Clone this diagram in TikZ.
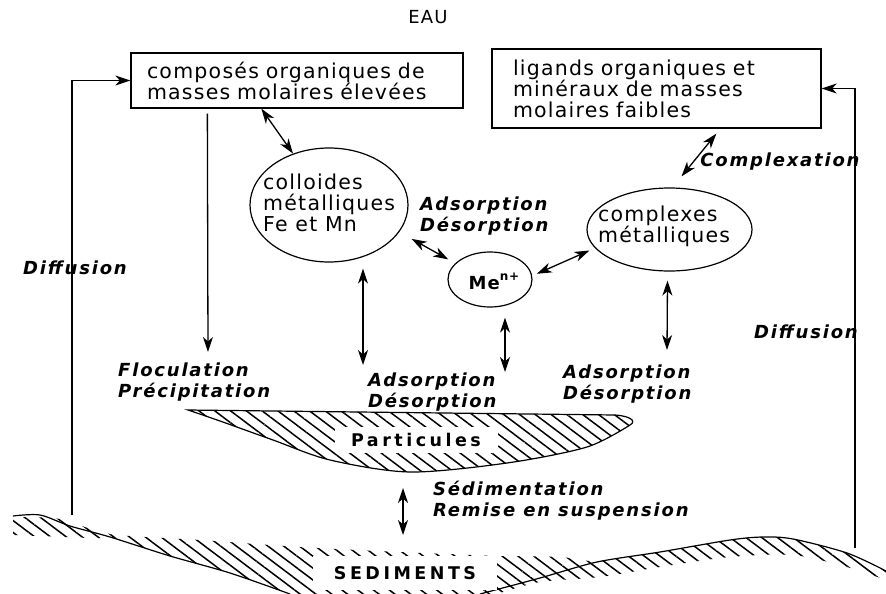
\documentclass[tikz,border=0pt]{standalone}
\usepackage{fontspec}
\setmainfont{DejaVu Sans}
\newfontfamily\bodyf[LetterSpace=6]{DejaVu Sans}
\newfontfamily\labf[LetterSpace=10]{DejaVu Sans}
\newfontfamily\headf[LetterSpace=20]{DejaVu Sans}
\usetikzlibrary{arrows.meta,patterns.meta,shapes.geometric,calc}
\tikzset{
  >={Stealth[length=15pt,width=10pt,inset=4.5pt]},
  conn/.style={line width=1.3pt},
  box/.style={draw, line width=1.3pt, align=left, inner ysep=0pt, font={\bodyf\fontsize{20.5}{21}\selectfont}},
  oval/.style={ellipse, draw, line width=1.2pt, inner sep=0pt},
  txt/.style={font={\bodyf\fontsize{20.5}{21}\selectfont}, align=left, inner sep=0pt},
  lab/.style={font={\labf\bfseries\itshape\fontsize{18}{21}\selectfont}, align=left, inner sep=0pt},
  big/.style={font={\headf\bfseries\fontsize{17.5}{20}\selectfont}, fill=white, inner sep=0pt},
  hatch/.style={pattern={Lines[angle=-37,distance=9.5pt,line width=1.5pt]}}
}
\begin{document}
\begin{tikzpicture}[x=1pt,y=-1pt]
\useasboundingbox (0,0) rectangle (886,594);
\fill[white] (0,0) rectangle (886,594);

% sediments (hatched band)
\fill[hatch] plot[smooth] coordinates {(13,517) (60,519) (110,534) (200,540) (300,547) (400,552) (497,556)}
  -- (497,594) -- (290,594)
  -- plot[smooth] coordinates {(290,594) (230,573) (170,556) (115,538)} -- (90,538) -- (13,535) -- cycle;
\fill[hatch] plot[smooth] coordinates {(497,556) (560,557) (597,561) (660,552) (730,540) (763,537) (793,539) (847,553) (886,571)}
  -- (886,580) -- plot[smooth] coordinates {(886,580) (847,567) (793,555) (730,557) (660,567) (600,577) (540,582) (497,594)} -- cycle;
\draw[line width=1.2pt] plot[smooth] coordinates {(13,516) (40,515) (70,526) (110,537) (170,556) (230,573) (290,594)};
\draw[line width=1.2pt] plot[smooth] coordinates {(480,594) (540,578) (597,562) (660,552) (730,540) (763,537) (793,539) (847,553) (886,571)};

% particules
\filldraw[hatch, line width=1.2pt] (188,410) -- (615,415) .. controls (630,416) and (637,421) .. (630,425)
  -- plot[smooth] coordinates {(630,425) (587,447) (507,463) (410,472) (330,460) (273,440) (220,421) (188,410)} -- cycle;

\node[big, minimum width=163pt, minimum height=26pt] (part) at (416,440) {Particules};
\node[big, minimum width=184pt, minimum height=34pt] (sed) at (405,573) {SEDIMENTS};

% title
\node[font={\bodyf\fontsize{18}{18}\selectfont}, inner sep=0pt] (eau) at (428,17) {EAU};

% boxes
\node[box, minimum width=332pt, minimum height=55pt, text width=300pt, inner xsep=16pt] (b1) at (297,80.5)
  {composés organiques de\\masses molaires élevées};
\node[box, minimum width=329pt, minimum height=79pt, text width=287pt, inner xsep=21pt] (b2) at (656.5,88.5)
  {ligands organiques et\\minéraux de masses\\molaires faibles};

% ovals
\node[oval, minimum width=158pt, minimum height=114pt] (coll) at (329,205) {};
\node[txt, anchor=west] (colltxt) at (263,203) {colloides\\métalliques\\Fe et Mn};
\node[oval, minimum width=165pt, minimum height=83pt] (comp) at (669.5,229.5) {};
\node[txt, anchor=west] (comptxt) at (598,226) {complexes\\métalliques};
\node[oval, minimum width=84pt, minimum height=55pt] (me) at (490,279.5) {};
\node[font={\bodyf\bfseries\fontsize{18}{20}\selectfont}, inner sep=0pt] (metxt) at (494,281)
  {Me\raisebox{9pt}{\fontsize{12}{12}\selectfont n+}};

% labels
\node[lab, fill=white, inner sep=2pt] (diffL) at (75,268) {Diffusion};
\node[lab] (diffR) at (806,332) {Diffusion};
\node[lab] (cplx) at (780,162) {Complexation};
\node[lab, anchor=west] (adsT) at (420,216) {Adsorption\\Désorption};
\node[lab, anchor=west] (floc) at (118,382) {Floculation\\Précipitation};
\node[lab, anchor=west] (adsL) at (368,392) {Adsorption\\Désorption};
\node[lab, anchor=west] (adsR) at (563,384) {Adsorption\\Désorption};
\node[lab, anchor=west] (sedim) at (433,501) {Sédimentation\\Remise en suspension};

% free ends
\coordinate (sedLtop) at (72,515);
\coordinate (sedRtop) at (855,548);
\coordinate (flocEnd) at (208,352);
\coordinate (collEnd) at (363,365);
\coordinate (meEnd) at (505,372);
\coordinate (compEnd) at (667,350);
\coordinate (pBot) at (403,488);
\coordinate (sTop) at (403,535);

% connectors
\draw[conn,->] (sedLtop) |- (b1.west);
\draw[conn,->] (sedRtop) |- (b2.east);
\draw[conn,->] ($(b1.south west)+(77,5)$) -- (flocEnd);
\draw[conn,<->] ($(b1.south west)+(131,0)$) -- (coll.125);
\draw[conn,<->,shorten <=14pt,shorten >=8pt] (coll.-21) -- (me.155);
\draw[conn,<->,shorten <=5pt,shorten >=6pt] (me.5) -- (comp.194);
\draw[conn,<->] ($(b2.south west)+(225,5)$) -- ($(comp.north)+(12,-11)$);
\draw[conn,<->] ($(coll.south)+(34,6)$) -- (collEnd);
\draw[conn,<->] ($(me.south)+(15,10)$) -- (meEnd);
\draw[conn,<->] ($(comp.south)+(-2,9)$) -- (compEnd);
\draw[conn,<->] (pBot) -- (sTop);
\end{tikzpicture}
\end{document}
